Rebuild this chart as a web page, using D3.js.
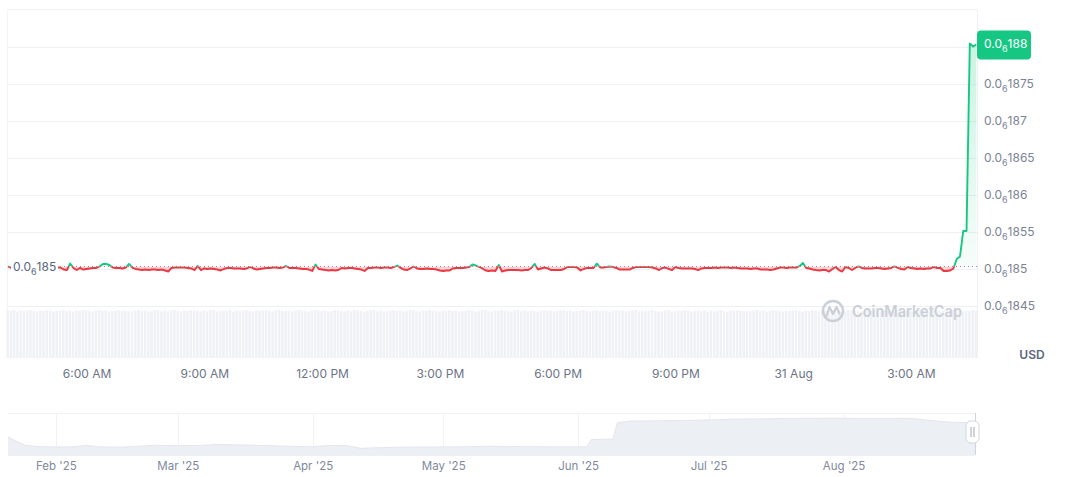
<!DOCTYPE html>
<html><head><meta charset="utf-8">
<script src="https://cdn.jsdelivr.net/npm/d3@7"></script>
<style>
html,body{margin:0;padding:0;background:#fff;}
svg{display:block;font-family:Inter,"Noto Sans",sans-serif;}
</style></head><body>
<svg id="chart" width="1072" height="477"></svg>
<script>
// ---------------- DATA ----------------
const startTime = "2025-08-30T04:00:00Z";
const endTime = "2025-08-31T04:41:00Z";
const stepMinutes = 5;
// price in units of 1e-9 USD (185 = 0.0₆185 = 0.000000185)
const priceE9 = [
185.034,185.014,185.000,185.007,184.993,185.007,185.000,184.986,185.014,185.007,
185.000,185.014,184.993,185.007,185.014,185.024,185.020,184.993,184.986,185.074,
185.014,184.986,185.014,184.993,185.000,185.007,185.014,185.014,185.034,185.068,
185.070,185.054,185.020,185.014,185.014,185.007,185.020,185.068,185.020,185.000,
184.993,184.986,184.993,184.986,184.993,184.993,184.986,184.993,184.980,184.966,
185.014,185.020,185.020,185.020,185.020,185.014,185.007,184.986,185.041,184.986,
185.007,185.000,185.007,185.000,184.993,184.980,185.000,185.014,185.014,185.007,
185.007,185.007,185.000,185.007,185.027,185.007,184.993,185.000,185.007,185.014,
185.014,185.020,185.020,185.014,185.020,185.041,185.014,185.014,185.014,185.007,
185.000,185.000,184.993,184.973,185.061,185.000,184.993,184.986,184.980,184.986,
184.980,184.986,185.014,185.007,185.014,185.014,185.007,185.000,184.993,184.973,
185.014,185.014,185.020,185.020,185.014,185.020,185.020,185.014,185.027,185.047,
185.014,184.993,184.986,185.007,185.034,185.007,185.000,185.000,185.007,185.000,
185.000,184.993,184.980,184.973,184.980,184.980,185.007,185.014,185.014,185.014,
185.020,185.027,185.061,185.047,185.027,185.007,184.980,184.973,184.980,184.973,
185.054,184.966,184.980,184.986,184.986,184.986,184.986,184.980,184.986,184.986,
185.014,185.068,184.993,185.007,185.020,185.007,184.986,184.986,184.986,184.986,
185.000,185.027,185.027,185.027,185.020,184.980,185.000,185.014,185.014,185.014,
185.074,185.020,185.020,185.027,185.034,185.027,185.014,184.993,184.993,184.993,
184.993,185.014,185.027,185.027,185.027,185.027,185.027,185.020,185.007,184.986,
185.014,185.020,185.000,184.986,185.027,185.014,185.007,185.007,185.007,185.007,
185.000,184.986,185.007,185.014,185.014,185.014,185.020,185.014,185.020,185.020,
185.020,185.014,185.020,185.014,185.007,185.007,185.007,185.000,185.007,185.007,
184.993,184.993,184.993,184.986,184.993,185.007,185.020,185.020,185.014,185.020,
185.020,185.020,185.041,185.081,185.014,185.007,184.993,184.986,184.980,184.986,
184.986,184.966,185.000,185.027,184.986,184.966,185.027,185.014,184.986,185.014,
185.034,185.014,185.007,185.007,185.007,185.014,185.014,185.007,185.000,185.007,
185.014,185.034,185.014,185.000,184.993,185.027,185.014,185.007,185.000,185.007,
185.000,185.007,185.007,185.027,185.014,185.014,184.973,184.973,184.980,185.007,
185.135,185.169,185.514,185.514,188.047,188.007,188.034
];
const volume = [
99,98,100,97,99,98,99,100,98,97,99,98,100,99,97,98,99,100,98,99,
97,99,98,100,99,98,97,99,100,98,99,97,98,99,100,98,99,98,97,99,
100,98,99,97,98,100,99,98,99,97,99,100,98,97,99,98,100,99,98,97,
99,98,100,99,97,98,99,98,100,97,99,98,99,100,98,97,99,98,99,100,
98,97,99,100,98,99,98,97,99,100,99,98,97,98,100,99,98,99,97,98,
100,99,98,97,99,98,100,99,98,97,98,99,100,98,99,97,98,99,100,98,
99,97,98,100,99,98,97,99,98,100,99,98,97,99,98,100,98,99,97,98,
98,100,99,97,98,99,100,98,97,99,98,100,99,98,97,99,100,98,99,97,
99,98,97,99,100,98,99,97,98,100,99,98,99,97,98,99,100,98,97,99,
100,98,99,98,97,99,100,98,99,97,98,99,100,97,99,98,99,100,98,97,
98,99,100,97,98,99,98,100,99,97,98,99,98,100,97,99,98,99,100,98,
97,99,98,100,99,98,97,98,99,100,98,99,97,98,100,99,98,97,99,98,
99,100,98,97,99,98,100,99,97,98,99,98,100,98,99,97,98,100,99,98,
98,97,99,100,98,99,97,98,100,99,98,97,99,100,98,99,98,97,99,100,
99,98,97,100,99,98,99,97,98,100,99,98,97,99,98,100,99
];
const yTicksE9 = [184.5, 185, 185.5, 186, 186.5, 187, 187.5, 188];
const timeTicks = ["2025-08-30T06:00:00Z","2025-08-30T09:00:00Z","2025-08-30T12:00:00Z","2025-08-30T15:00:00Z",
                   "2025-08-30T18:00:00Z","2025-08-30T21:00:00Z","2025-08-31T00:00:00Z","2025-08-31T03:00:00Z"];
const timeTickLabels = ["6:00 AM","9:00 AM","12:00 PM","3:00 PM","6:00 PM","9:00 PM","31 Aug","3:00 AM"];
const lastPriceLabel = "188";
const openPriceLabel = "185";
// navigator (price history, units of 1e-7 USD)
const navStart = "2025-01-21T00:00:00Z";
const navDates = ["2025-01-21","2025-01-23","2025-01-25","2025-01-28","2025-02-01","2025-02-05","2025-02-08","2025-02-11",
  "2025-02-16","2025-02-20","2025-02-24","2025-03-01","2025-03-06","2025-03-10","2025-03-15","2025-03-20","2025-03-26",
  "2025-04-01","2025-04-05","2025-04-09","2025-04-12","2025-04-16","2025-04-22","2025-04-28","2025-05-05","2025-05-12",
  "2025-05-19","2025-05-26","2025-06-03","2025-06-04","2025-06-07","2025-06-09","2025-06-10","2025-06-13","2025-06-20",
  "2025-06-28","2025-07-06","2025-07-14","2025-07-22","2025-07-30","2025-08-06","2025-08-12","2025-08-16","2025-08-20",
  "2025-08-25","2025-08-31"];
const navValuesE7 = [1.03,0.78,0.55,0.48,0.46,0.47,0.55,0.47,
  0.45,0.50,0.56,0.53,0.55,0.60,0.58,0.55,0.50,
  0.47,0.55,0.53,0.38,0.42,0.45,0.46,0.47,0.50,
  0.48,0.47,0.47,0.88,0.90,0.92,1.85,1.94,1.96,
  1.98,2.04,2.07,2.09,2.10,2.08,2.08,2.10,2.00,
  1.88,1.83];
const navMonths = ["2025-02-01","2025-03-01","2025-04-01","2025-05-01","2025-06-01","2025-07-01","2025-08-01"];
const navMonthLabels = ["Feb '25","Mar '25","Apr '25","May '25","Jun '25","Jul '25","Aug '25"];

// ---------------- CHART ----------------
const GREEN = "#16c784", RED = "#ea3943";
const svg = d3.select("#chart");
const L = 8, R = 977, TOP = 9.5, PBOT = 310, VBOT = 358;

const t0 = new Date(startTime).getTime();
const times = priceE9.map((_, i) => new Date(t0 + i * stepMinutes * 60000));
const x = d3.scaleUtc().domain([new Date(startTime), new Date(endTime)]).range([L, R]);
const y = d3.scaleLinear().domain([184.5, 188]).range([306, 47]);
const vol = d3.scaleLinear().domain([0, 100]).range([VBOT, PBOT]);

const base = priceE9[0];
const yb = y(base);

// grid
svg.append("g").selectAll("line").data(yTicksE9).join("line")
  .attr("x1", L).attr("x2", R).attr("y1", d => Math.round(y(d)) + 0.5).attr("y2", d => Math.round(y(d)) + 0.5)
  .attr("stroke", "#eef0f3");
// frame
svg.append("line").attr("x1", L).attr("x2", R).attr("y1", TOP).attr("y2", TOP).attr("stroke", "#eef0f3");
svg.append("line").attr("x1", R + 0.5).attr("x2", R + 0.5).attr("y1", TOP).attr("y2", VBOT).attr("stroke", "#eef0f3");
svg.append("line").attr("x1", L - 0.5).attr("x2", L - 0.5).attr("y1", TOP).attr("y2", VBOT).attr("stroke", "#f3f4f6");

// volume bars
const step = x(times[1]) - x(times[0]);
svg.append("g").selectAll("rect").data(volume.slice(0, times.length)).join("rect")
  .attr("x", (d, i) => x(times[i]) - step / 2)
  .attr("width", Math.max(1, step - 0.8))
  .attr("y", d => vol(d)).attr("height", d => VBOT - vol(d))
  .attr("fill", "#eef1f5");

// watermark
const wm = svg.append("g").attr("opacity", 0.95);
wm.append("circle").attr("cx", 833).attr("cy", 311).attr("r", 10).attr("fill", "none")
  .attr("stroke", "#c9ced6").attr("stroke-width", 2.4);
wm.append("path").attr("d", "M826.5,316 L829.5,307 L833,314 L836.5,307 L839.5,313.5")
  .attr("fill", "none").attr("stroke", "#c9ced6").attr("stroke-width", 2.2).attr("stroke-linejoin", "round").attr("stroke-linecap", "round");
wm.append("text").attr("x", 852).attr("y", 317).attr("font-size", 16).attr("font-weight", 600)
  .attr("fill", "#c9ced6").attr("textLength", 110).attr("lengthAdjust", "spacingAndGlyphs").text("CoinMarketCap");

// clips
const defs = svg.append("defs");
defs.append("clipPath").attr("id", "above").append("rect").attr("x", 0).attr("y", 0).attr("width", 1072).attr("height", yb);
defs.append("clipPath").attr("id", "below").append("rect").attr("x", 0).attr("y", yb).attr("width", 1072).attr("height", PBOT - yb);
const gg = defs.append("linearGradient").attr("id", "gfill").attr("x1", 0).attr("x2", 0)
  .attr("gradientUnits", "userSpaceOnUse").attr("y1", y(188)).attr("y2", yb);
gg.append("stop").attr("offset", 0).attr("stop-color", GREEN).attr("stop-opacity", 0.22);
gg.append("stop").attr("offset", 1).attr("stop-color", GREEN).attr("stop-opacity", 0.04);

const area = d3.area().x((d, i) => x(times[i])).y0(yb).y1(d => y(d));
const line = d3.line().x((d, i) => x(times[i])).y(d => y(d));

svg.append("path").datum(priceE9).attr("d", area).attr("fill", "url(#gfill)").attr("clip-path", "url(#above)");
svg.append("path").datum(priceE9).attr("d", area).attr("fill", RED).attr("fill-opacity", 0.24).attr("clip-path", "url(#below)");

// baseline (open price)
svg.append("line").attr("x1", L).attr("x2", R).attr("y1", yb).attr("y2", yb)
  .attr("stroke", "#8e95a3").attr("stroke-dasharray", "1,3").attr("stroke-width", 1);

svg.append("path").datum(priceE9).attr("d", line).attr("fill", "none").attr("stroke", GREEN)
  .attr("stroke-width", 1.9).attr("stroke-linejoin", "round").attr("clip-path", "url(#above)");
svg.append("path").datum(priceE9).attr("d", line).attr("fill", "none").attr("stroke", RED)
  .attr("stroke-width", 1.9).attr("stroke-linejoin", "round").attr("clip-path", "url(#below)");

// price text with subscript zero count
function priceText(sel, digits, fill) {
  sel.append("tspan").text("0.0");
  sel.append("tspan").attr("font-size", 9).attr("dy", 4).text("6");
  sel.append("tspan").attr("dy", -4).text(digits);
  sel.attr("fill", fill);
}

const lastV = priceE9[priceE9.length - 1];
const yLast = y(lastV);

// y axis labels (the one hidden under the last-price badge is skipped)
const yAxis = svg.append("g");
yTicksE9.filter(v => Math.abs(y(v) - yLast) > 12).forEach(v => {
  const t = yAxis.append("text").attr("x", 984).attr("y", y(v)).attr("dy", "0.35em").attr("font-size", 12);
  priceText(t, String(v).replace(".", ""), "#7b8394");
});

// last price badge
svg.append("rect").attr("x", 977).attr("y", yLast - 14).attr("width", 54).attr("height", 29).attr("rx", 4).attr("fill", GREEN);
const bt = svg.append("text").attr("x", 984).attr("y", yLast - 1).attr("dy", "0.35em").attr("font-size", 12);
priceText(bt, lastPriceLabel, "#ffffff");

// open price label on left
svg.append("rect").attr("x", 11).attr("y", yb - 8).attr("width", 47).attr("height", 17).attr("fill", "#fff");
const ol = svg.append("text").attr("x", 13).attr("y", yb).attr("dy", "0.35em").attr("font-size", 12);
priceText(ol, openPriceLabel, "#58667e");

// x axis
const xAxis = d3.axisBottom(x).tickValues(timeTicks.map(d => new Date(d)))
  .tickFormat((d, i) => timeTickLabels[i]).tickSize(0).tickPadding(11);
const xg = svg.append("g").attr("transform", `translate(0,${VBOT})`).call(xAxis);
xg.select(".domain").remove();
xg.selectAll("text").attr("font-size", 12).attr("fill", "#6c7486").attr("font-family", "Inter,'Noto Sans',sans-serif");

// USD
svg.append("text").attr("x", 1032).attr("y", 355).attr("dy", "0.35em").attr("text-anchor", "middle")
  .attr("font-size", 12).attr("font-weight", 600).attr("fill", "#58667e").text("USD");

// ---------------- NAVIGATOR ----------------
const NT = 413, NB = 455, NR = 975;
const nx = d3.scaleUtc().domain([new Date(navStart), new Date(endTime)]).range([L, NR]);
const ny = d3.scaleLinear().domain([0, 2.4]).range([NB, NT]);
const navD = navDates.map(d => new Date(d + "T00:00:00Z"));
navD[navD.length - 1] = new Date(endTime);

svg.append("line").attr("x1", L).attr("x2", NR).attr("y1", NT + 0.5).attr("y2", NT + 0.5).attr("stroke", "#f0f2f5");
svg.append("g").selectAll("line").data(navMonths).join("line")
  .attr("x1", d => Math.round(nx(new Date(d + "T00:00:00Z"))) + 0.5).attr("x2", d => Math.round(nx(new Date(d + "T00:00:00Z"))) + 0.5)
  .attr("y1", NT).attr("y2", NB).attr("stroke", "#f0f2f5");
const navArea = d3.area().x((d, i) => nx(navD[i])).y0(NB).y1(d => ny(d));
svg.append("path").datum(navValuesE7).attr("d", navArea).attr("fill", "#eceff3");
svg.append("path").datum(navValuesE7).attr("d", d3.line().x((d, i) => nx(navD[i])).y(d => ny(d)))
  .attr("fill", "none").attr("stroke", "#e3e7ed").attr("stroke-width", 1);
svg.append("line").attr("x1", L).attr("x2", NR).attr("y1", NB + 0.5).attr("y2", NB + 0.5).attr("stroke", "#eef0f3");

const nAxis = d3.axisBottom(nx).tickValues(navMonths.map(d => new Date(d + "T00:00:00Z")))
  .tickFormat((d, i) => navMonthLabels[i]).tickSize(0).tickPadding(7);
const ng = svg.append("g").attr("transform", `translate(0,${NB})`).call(nAxis);
ng.select(".domain").remove();
ng.selectAll("text").attr("font-size", 11.5).attr("fill", "#808a9d").attr("font-family", "Inter,'Noto Sans',sans-serif");

// selection edge + handle
svg.append("line").attr("x1", NR + 0.5).attr("x2", NR + 0.5).attr("y1", NT).attr("y2", NB).attr("stroke", "#cdd5e3");
svg.append("rect").attr("x", 966).attr("y", 421).attr("width", 13).attr("height", 22).attr("rx", 5)
  .attr("fill", "#fff").attr("stroke", "#cfd6e4");
[971, 974].forEach(hx => svg.append("line").attr("x1", hx).attr("x2", hx).attr("y1", 427).attr("y2", 437)
  .attr("stroke", "#a0a8b8").attr("stroke-width", 1));
</script>
</body></html>
